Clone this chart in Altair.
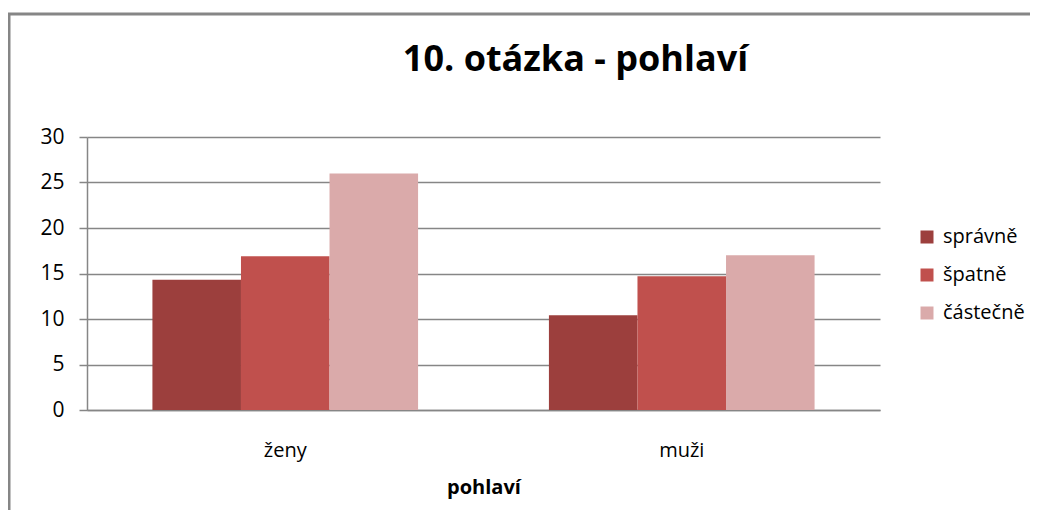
import altair as alt
import pandas as pd

categories = ["ženy", "muži"]
series = ["správně", "špatně", "částečně"]
spravne = [14.3, 10.4]
spatne = [16.9, 14.7]
castecne = [26.0, 17.0]
colors = ["#9C3F3D", "#C0504D", "#DAAAAA"]

rows = []
for i, c in enumerate(categories):
    for s, vals in zip(series, [spravne, spatne, castecne]):
        rows.append({"pohlaví": c, "série": s, "hodnota": vals[i]})
df = pd.DataFrame(rows)

FONT = "Open Sans"
GRAY = "#868686"

bars = alt.Chart(df).mark_bar(cornerRadius=0).encode(
    x=alt.X("pohlaví:N", sort=categories,
            scale=alt.Scale(paddingInner=0.33, paddingOuter=0.165),
            axis=alt.Axis(title="pohlaví", labelAngle=0, ticks=False,
                          labelPadding=30, labelFontSize=20, labelFont=FONT,
                          labelColor="#000000", titleFont=FONT, titleFontSize=20,
                          titleFontWeight="bold", titleColor="#000000",
                          titlePadding=17, domainColor=GRAY, domainWidth=1.5)),
    xOffset=alt.XOffset("série:N", sort=series),
    y=alt.Y("hodnota:Q", scale=alt.Scale(domain=[0, 30]),
            axis=alt.Axis(title=None, values=[0, 5, 10, 15, 20, 25, 30],
                          tickSize=8, tickColor=GRAY, tickWidth=1.5,
                          labelPadding=15, labelFontSize=21, labelFont=FONT,
                          labelColor="#000000", domainColor=GRAY, domainWidth=1.5,
                          gridColor=GRAY, gridWidth=1.5)),
    color=alt.Color("série:N", sort=series,
                    scale=alt.Scale(domain=series, range=colors),
                    legend=alt.Legend(title=None, orient="none", legendX=830,
                                      legendY=90, symbolType="square",
                                      symbolSize=169, symbolStrokeWidth=0,
                                      labelFontSize=20, labelFont=FONT,
                                      labelColor="#000000", rowPadding=18,
                                      labelOffset=6)),
)

border = alt.Chart(pd.DataFrame({"a": [0]})).mark_rect(
    fill="transparent", stroke=GRAY, strokeWidth=3
).encode(
    x=alt.value(-78), x2=alt.value(1200), y=alt.value(-123), y2=alt.value(700)
)

chart = alt.layer(bars, border).properties(
    width=793, height=273,
    padding={"left": 79, "top": 129, "right": 150, "bottom": 100},
    autosize=alt.AutoSizeParams(type="none"),
    title=alt.TitleParams("10. otázka - pohlaví", font=FONT, fontSize=36,
                          fontWeight="bold", color="#000000", anchor="middle",
                          dx=92, offset=-66),
).configure_view(stroke=None)

chart.save("out.html", embed_options={"renderer": "svg", "actions": False})
